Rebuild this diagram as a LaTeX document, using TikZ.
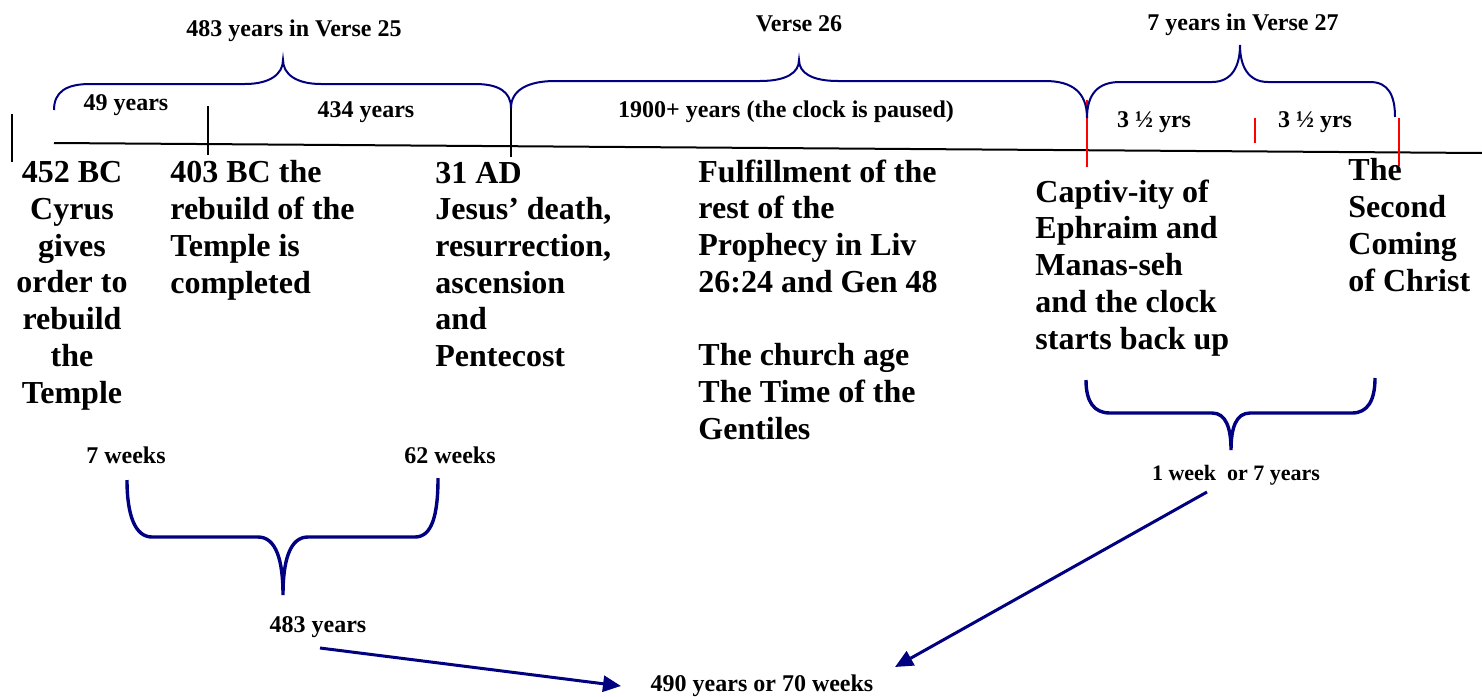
\documentclass[tikz,border=0pt]{standalone}
\usepackage{fontspec}
\setmainfont{Liberation Serif}
\usetikzlibrary{arrows.meta}
\definecolor{navy}{RGB}{0,0,128}
\begin{document}
\begin{tikzpicture}[x=0.5pt,y=-0.5pt,
  big/.style={font=\bfseries\fontsize{16}{18.35}\selectfont, inner sep=0pt, align=left, anchor=base west},
  small/.style={font=\bfseries\fontsize{12}{14}\selectfont, inner sep=0pt, anchor=base},
  brc/.style={draw=navy, line width=1pt},
  brcb/.style={draw=navy, line width=1.7pt},
  arr/.style={draw=navy, line width=1.5pt, -{Triangle[length=9pt,width=8pt]}},
  tickline/.style={draw=black, line width=0.7pt},
  rtick/.style={draw=red, line width=1pt}]
\useasboundingbox (0,0) rectangle (1482,696);

% timeline
\coordinate (tl0) at (54,143);
\coordinate (tl1) at (1482,153);
\draw[line width=1pt] (tl0) -- (tl1);

% ticks
\coordinate (k0a) at (12,114); \coordinate (k0b) at (12,162);
\coordinate (k1a) at (208,106); \coordinate (k1b) at (208,155);
\coordinate (k2a) at (511,107); \coordinate (k2b) at (511,157);
\draw[tickline] (k0a) -- (k0b);
\draw[tickline] (k1a) -- (k1b);
\draw[tickline] (k2a) -- (k2b);
\coordinate (r1a) at (1087,100); \coordinate (r1b) at (1087,167);
\coordinate (r2a) at (1255,118); \coordinate (r2b) at (1255,143);
\coordinate (r3a) at (1399,118); \coordinate (r3b) at (1399,166);
\draw[rtick] (r1a) -- (r1b);
\draw[rtick] (r2a) -- (r2b);
\draw[rtick] (r3a) -- (r3b);

% top braces
\draw[brc] (54,110) .. controls (54,92) and (66,84) .. (90,84) -- (245,84)
  .. controls (270,84) and (283,74) .. (283,60)
  .. controls (283,74) and (296,84) .. (321,84) -- (475,84)
  .. controls (499,84) and (511,92) .. (511,108);
\draw[brc] (511,108) .. controls (511,90) and (528,81) .. (555,81) -- (760,81)
  .. controls (786,81) and (799,73) .. (799,60)
  .. controls (799,73) and (812,81) .. (838,81) -- (1045,81)
  .. controls (1072,81) and (1087,92) .. (1087,118);
\draw[brc] (1087,118) .. controls (1087,94) and (1098,82) .. (1120,82) -- (1212,82)
  .. controls (1232,82) and (1240,66) .. (1240,45)
  .. controls (1240,66) and (1248,82) .. (1268,82) -- (1370,82)
  .. controls (1388,82) and (1395,95) .. (1395,117);

% bottom braces
\draw[brcb] (127,480) .. controls (127,515) and (135,537) .. (152,537) -- (258,537)
  .. controls (276,537) and (283,560) .. (283,595)
  .. controls (283,560) and (290,537) .. (308,537) -- (415,537)
  .. controls (432,537) and (438,515) .. (438,478);
\draw[brcb] (1086,380) .. controls (1086,402) and (1094,413) .. (1110,413) -- (1212,413)
  .. controls (1226,413) and (1231,428) .. (1231,450)
  .. controls (1231,428) and (1236,413) .. (1250,413) -- (1352,413)
  .. controls (1368,413) and (1375,400) .. (1375,378);

% small labels
\node[small] (v25) at (294,36) {483 years in Verse 25};
\node[small] (v26) at (799,32) {Verse 26};
\node[small] (v27) at (1243,30) {7 years in Verse 27};
\node[small] (y49) at (126,110) {49 years};
\node[small] (y434) at (366,117) {434 years};
\node[small] (y1900) at (786,117) {1900+ years (the clock is paused)};
\node[small] (h1) at (1154,127) {3 ½ yrs};
\node[small] (h2) at (1315,127) {3 ½ yrs};
\node[small] (w7) at (126,463) {7 weeks};
\node[small] (w62) at (450,463) {62 weeks};
\node[small] (y483) at (318,632) {483 years};
\node[small, font=\bfseries\fontsize{11}{13}\selectfont] (wk1) at (1236,480) {1 week\ \ or 7 years};
\node[small] (tot) at (762,691) {490 years or 70 weeks};

% big texts (anchored at the baseline of their last line)
\node[big, align=center, anchor=base] (t452) at (72,403) {452 BC\\Cyrus\\gives\\order to\\rebuild\\the\\Temple};
\node[big] (t403) at (170,293) {403 BC the\\rebuild of the\\Temple is\\completed};
\node[big] (t31) at (435,366.5) {31 AD\\Jesus’ death,\\resurrection,\\ascension\\and\\Pentecost};
\node[big] (tful) at (698,439) {Fulfillment of the\\rest of the\\Prophecy in Liv\\26:24 and Gen 48\\[18.35pt]The church age\\The Time of the\\Gentiles};
\node[big] (tcap) at (1035,349) {Captiv-ity of\\Ephraim and\\Manas-seh\\and the clock\\starts back up};
\node[big] (tsec) at (1348,291) {The\\Second\\Coming\\of Christ};

% arrows
\coordinate (a1s) at (320,648);
\coordinate (a1e) at (621,686);
\coordinate (a2s) at (1207,492);
\coordinate (a2e) at (895,667);
\draw[arr] (a1s) -- (a1e);
\draw[arr] (a2s) -- (a2e);
\end{tikzpicture}
\end{document}
